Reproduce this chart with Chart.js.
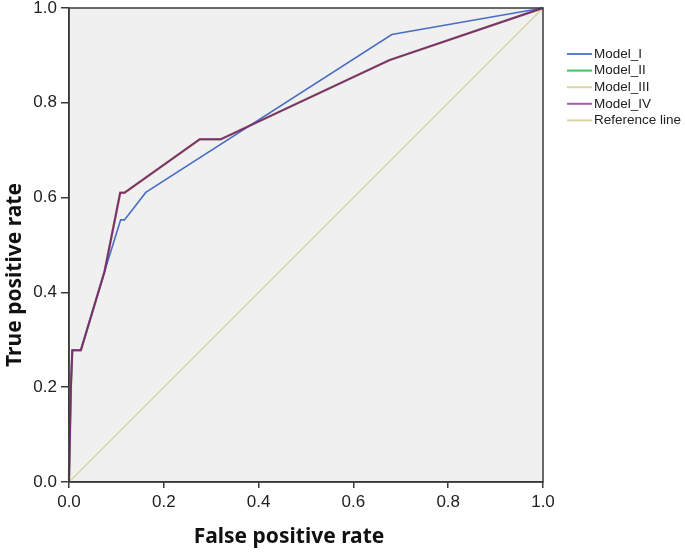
<!DOCTYPE html>
<html>
<head>
<meta charset="utf-8">
<script src="https://cdn.jsdelivr.net/npm/chart.js@4/dist/chart.umd.min.js"></script>
<style>
html,body{margin:0;padding:0;background:#fff;}
#wrap{width:685px;height:554px;position:relative;}
</style>
</head>
<body>
<div id="wrap"><canvas id="c" width="685" height="554"></canvas></div>
<script>
// ----- data -----
const seriesNames = ["Model_I", "Model_II", "Model_III", "Model_IV", "Reference line"];
const fprModelI  = [0, 0.004, 0.007, 0.025, 0.075, 0.109, 0.117, 0.162, 0.681, 1];
const tprModelI  = [0, 0.20,  0.278, 0.278, 0.444, 0.553, 0.553, 0.611, 0.944, 1];
const fprModelII = [0, 0.004, 0.007, 0.025, 0.075, 0.108, 0.117, 0.276, 0.320, 0.676, 1];
const tprModelII = [0, 0.20,  0.278, 0.278, 0.444, 0.610, 0.610, 0.723, 0.723, 0.890, 1];
const fprModelIII = [0, 0.004, 0.007, 0.025, 0.075, 0.108, 0.117, 0.276, 0.320, 0.676, 1];
const tprModelIII = [0, 0.20,  0.278, 0.278, 0.444, 0.610, 0.610, 0.723, 0.723, 0.890, 1];
const fprModelIV = [0, 0.004, 0.007, 0.025, 0.075, 0.108, 0.117, 0.276, 0.320, 0.676, 1];
const tprModelIV = [0, 0.20,  0.278, 0.278, 0.444, 0.610, 0.610, 0.723, 0.723, 0.890, 1];
const fprReference = [0, 1];
const tprReference = [0, 1];
const tickValues = [0, 0.2, 0.4, 0.6, 0.8, 1.0];
const xTitle = "False positive rate";
const yTitle = "True positive rate";

function pts(xs, ys){ return xs.map((x,i)=>({x:x, y:ys[i]})); }

const lineColors   = ["#4a6ec5", "#3db54c", "#d8d29c", "#7b2f73", "#d8d39e"];
const legendColors = ["#5b7fcf", "#4cc05c", "#ddd6a3", "#a45fa8", "#d9d3a3"];

const bgPlugin = {
  id:'bg',
  beforeDraw(chart){
    const a = chart.chartArea, ctx = chart.ctx;
    ctx.save();
    ctx.fillStyle = '#f0f0f0';
    ctx.fillRect(a.left, a.top, a.right-a.left, a.bottom-a.top);
    ctx.restore();
  },
  afterDraw(chart){
    const a = chart.chartArea, ctx = chart.ctx;
    ctx.save();
    ctx.strokeStyle = '#3a3a3a';
    ctx.lineWidth = 1.5;
    ctx.strokeRect(a.left, a.top, a.right-a.left, a.bottom-a.top);
    // axis titles
    ctx.fillStyle = '#111';
    ctx.font = 'bold 21px "Noto Sans", "Open Sans", sans-serif';
    ctx.textAlign = 'center';
    ctx.textBaseline = 'middle';
    ctx.fillText(xTitle, 289, 537);
    ctx.save();
    ctx.translate(15, 275);
    ctx.rotate(-Math.PI/2);
    ctx.fillText(yTitle, 0, 0);
    ctx.restore();
    // legend
    ctx.font = '13.5px "Liberation Sans", Arial, sans-serif';
    ctx.textAlign = 'left';
    ctx.textBaseline = 'middle';
    chart.data.datasets.forEach((ds, i) => {
      const y = 54 + i * 16.6;
      ctx.strokeStyle = legendColors[i];
      ctx.lineWidth = 2;
      ctx.beginPath();
      ctx.moveTo(567, y);
      ctx.lineTo(592, y);
      ctx.stroke();
      ctx.fillStyle = '#222';
      ctx.fillText(ds.label, 594, y);
    });
    ctx.restore();
  }
};

const datasets = [
  {label: seriesNames[0], data: pts(fprModelI, tprModelI), borderColor: lineColors[0], borderWidth: 1.6, order: 1},
  {label: seriesNames[1], data: pts(fprModelII, tprModelII), borderColor: lineColors[1], borderWidth: 2, order: 3},
  {label: seriesNames[2], data: pts(fprModelIII, tprModelIII), borderColor: lineColors[2], borderWidth: 2.6, order: 2},
  {label: seriesNames[3], data: pts(fprModelIV, tprModelIV), borderColor: lineColors[3], borderWidth: 2, order: 0},
  {label: seriesNames[4], data: pts(fprReference, tprReference), borderColor: lineColors[4], borderWidth: 1.2, order: 4}
].map(d => Object.assign(d, {showLine: true, pointRadius: 0, pointHoverRadius: 0, fill: false, tension: 0, clip: false}));

new Chart(document.getElementById('c'), {
  type: 'scatter',
  data: { datasets },
  plugins: [bgPlugin],
  options: {
    responsive: false,
    animation: false,
    devicePixelRatio: 1,
    layout: { padding: { top: 8, right: 142, left: 0, bottom: 0 } },
    plugins: { legend: { display: false }, tooltip: { enabled: false } },
    scales: {
      x: {
        type: 'linear', min: 0, max: 1,
        afterBuildTicks(s){ s.ticks = tickValues.map(v => ({value: v})); },
        afterFit(s){ s.height = 72; s.paddingLeft = 0; s.paddingRight = 0; },
        grid: { drawOnChartArea: false, drawTicks: true, tickLength: 6, color: '#3a3a3a', lineWidth: 1.5 },
        border: { display: true, color: '#3a3a3a', width: 1.5 },
        ticks: { padding: 4, color: '#222', font: { size: 17, family: '"Liberation Sans", Arial, sans-serif' }, maxRotation: 0,
                 callback: v => Number(v).toFixed(1) },
        title: { display: false }
      },
      y: {
        type: 'linear', min: 0, max: 1,
        afterBuildTicks(s){ s.ticks = tickValues.map(v => ({value: v})); },
        afterFit(s){ s.width = 69; s.paddingTop = 0; s.paddingBottom = 0; },
        grid: { drawOnChartArea: false, drawTicks: true, tickLength: 8, color: '#3a3a3a', lineWidth: 1.5 },
        border: { display: true, color: '#3a3a3a', width: 1.5 },
        ticks: { padding: 4, color: '#222', font: { size: 17, family: '"Liberation Sans", Arial, sans-serif' },
                 callback: v => Number(v).toFixed(1) },
        title: { display: false }
      }
    }
  }
});
</script>
</body>
</html>
